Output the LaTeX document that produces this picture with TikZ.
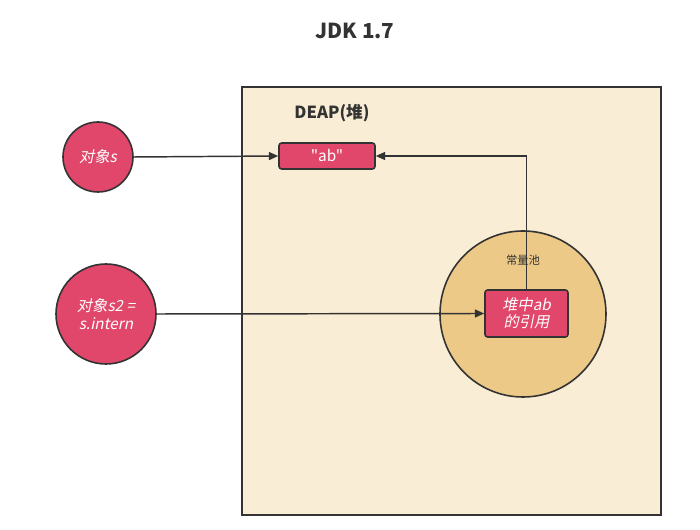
\documentclass[tikz,border=0pt]{standalone}
\usepackage{fontspec}
\setmainfont{Noto Sans CJK SC}
\newfontfamily\cjki[FakeSlant=0.2]{Noto Sans CJK SC}
\newfontfamily\abfont[Ligatures=TeXOff]{Noto Sans CJK SC}
\usetikzlibrary{arrows.meta}
\definecolor{redf}{HTML}{E0476A}
\definecolor{cream}{HTML}{F9EED5}
\definecolor{pool}{HTML}{EDC988}
\definecolor{ink}{HTML}{333333}
\tikzset{
  obj/.style={circle,draw=ink,line width=1.2pt,fill=redf,text=white,font=\cjki\fontsize{11.5}{13}\selectfont,align=center,inner sep=0pt},
  refbox/.style={rectangle,rounded corners=2pt,draw=ink,line width=1.2pt,fill=redf,text=white,align=center,inner sep=0pt},
  conn/.style={draw=ink,line width=1.1pt,-{Triangle[length=7pt,width=6pt]}}
}
\begin{document}
\begin{tikzpicture}[x=0.75pt,y=-0.75pt]
\useasboundingbox (0,0) rectangle (700,530);
\node[font=\bfseries\fontsize{15.5}{18}\selectfont,text=ink] (title) at (355,31) {JDK 1.7};
\node[draw=ink,line width=1.2pt,fill=cream,minimum width=419*0.75pt,minimum height=428*0.75pt,anchor=north west,inner sep=0pt] (heap) at (241,86) {};
\node[font=\bfseries\fontsize{12.5}{14}\selectfont,text=ink] (heaplbl) at (332,113) {DEAP(堆)};
\node[circle,draw=ink,line width=1.2pt,fill=pool,minimum size=166*0.75pt,inner sep=0pt] (pc) at (523,314) {};
\node[font=\fontsize{8.5}{10}\selectfont,text=ink] (pclbl) at (523,260) {常量池};
\node[obj,minimum size=70*0.75pt] (s) at (98,157) {对象s};
\node[obj,minimum size=100*0.75pt] (s2) at (106,314) {对象s2 =\\s.intern};
\node[refbox,minimum width=96*0.75pt,minimum height=26*0.75pt,font=\abfont\fontsize{11.5}{13}\selectfont] (ab) at (327,156) {"ab"};
\node[refbox,minimum width=83*0.75pt,minimum height=47*0.75pt,font=\cjki\fontsize{11.5}{13}\selectfont] (ref) at (526.5,313.5) {堆中ab\\的引用};
\draw[conn] (s.east) -- (ab.west);
\draw[conn] (s2.east) -- (ref.west);
\draw[conn] (ref.north) |- (ab.east);
\end{tikzpicture}
\end{document}
